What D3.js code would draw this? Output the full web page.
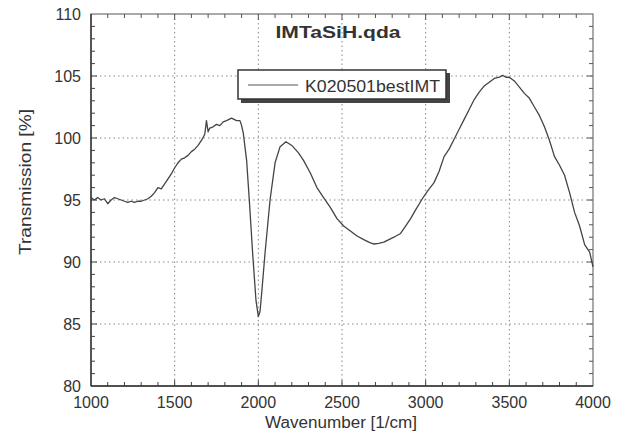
<!DOCTYPE html>
<html>
<head>
<meta charset="utf-8">
<script src="https://cdn.jsdelivr.net/npm/d3@7"></script>
<style>
  body { margin: 0; background: #fff; }
  text { font-family: "Liberation Sans", Arial, sans-serif; fill: #333; }
</style>
</head>
<body>
<div id="chart"></div>
<script>
// data
var wavenumber = [1000,1020,1040,1060,1080,1100,1120,1140,1160,1180,1200,1220,1240,1260,1280,1300,1320,1340,1360,1380,
  1400,1420,1440,1460,1480,1500,1520,1540,1560,1580,1600,1620,1640,1660,1680,1690,1700,1710,1730,1750,
  1770,1790,1810,1840,1870,1890,1900,1910,1930,1946,1966,1986,2000,2010,2020,2040,2070,2100,2130,2165,
  2200,2240,2270,2310,2350,2390,2430,2470,2510,2550,2590,2630,2660,2690,2720,2750,2780,2810,2850,2880,
  2910,2940,2980,3010,3050,3080,3110,3140,3170,3200,3230,3260,3290,3320,3350,3380,3410,3440,3460,3480,
  3500,3530,3560,3590,3620,3650,3680,3710,3740,3770,3800,3830,3860,3890,3920,3950,3980,4000];
var transmission = [95.2,95.0,95.2,95.0,95.1,94.7,95.0,95.2,95.1,95.0,94.9,94.8,94.9,94.8,94.9,94.9,95.0,95.1,95.3,95.6,
  96.0,95.9,96.3,96.7,97.1,97.6,98.0,98.3,98.4,98.6,98.9,99.1,99.4,99.8,100.3,101.4,100.5,100.8,100.9,101.1,
  101.0,101.3,101.4,101.6,101.4,101.4,101.0,100.4,98.2,95.0,90.7,86.9,85.6,86.0,87.5,90.7,95.0,98.0,99.3,99.7,
  99.4,98.8,98.2,97.2,96.0,95.2,94.4,93.5,92.9,92.5,92.1,91.8,91.6,91.45,91.5,91.6,91.8,92.0,92.3,92.9,
  93.5,94.2,95.1,95.7,96.4,97.3,98.5,99.1,99.9,100.7,101.5,102.3,103.1,103.7,104.2,104.5,104.8,104.9,105.05,104.9,
  104.9,104.6,104.1,103.6,103.2,102.5,101.8,100.9,99.8,98.5,97.8,97.0,95.6,94.0,92.9,91.4,90.8,89.6];

var xTicks = [1000,1500,2000,2500,3000,3500,4000];
var yTicks = [80,85,90,95,100,105,110];
var title = "IMTaSiH.qda";
var seriesName = "K020501bestIMT";

var width = 628, height = 437;
var pLeft = 91, pRight = 593, pTop = 14, pBottom = 386;

var svg = d3.select("#chart").append("svg")
    .attr("width", width)
    .attr("height", height);

var x = d3.scaleLinear().domain([1000, 4000]).range([pLeft, pRight]);
var y = d3.scaleLinear().domain([80, 110]).range([pBottom, pTop]);

// dotted grid
svg.selectAll(".gx").data(xTicks.slice(1, -1)).enter().append("line")
    .attr("x1", function(d){ return x(d); }).attr("x2", function(d){ return x(d); })
    .attr("y1", pTop).attr("y2", pBottom)
    .attr("stroke", "#888").attr("stroke-width", 1).attr("stroke-dasharray", "1.5,3");
svg.selectAll(".gy").data(yTicks.slice(1, -1)).enter().append("line")
    .attr("x1", pLeft).attr("x2", pRight)
    .attr("y1", function(d){ return y(d); }).attr("y2", function(d){ return y(d); })
    .attr("stroke", "#888").attr("stroke-width", 1).attr("stroke-dasharray", "1.5,3");

// inward ticks on all four sides
var xMinor = d3.range(1100, 4000, 100);
var yMinor = d3.range(81, 110, 1);
function tickLen(isMajor){ return isMajor ? 6 : 4; }

xMinor.forEach(function(v){
  var L = tickLen(v % 500 == 0);
  svg.append("line").attr("x1", x(v)).attr("x2", x(v)).attr("y1", pBottom).attr("y2", pBottom - L)
     .attr("stroke", "#444").attr("stroke-width", 1);
  svg.append("line").attr("x1", x(v)).attr("x2", x(v)).attr("y1", pTop).attr("y2", pTop + L)
     .attr("stroke", "#555").attr("stroke-width", 1);
});
yMinor.forEach(function(v){
  var L = tickLen(v % 5 == 0);
  svg.append("line").attr("x1", pLeft).attr("x2", pLeft + L).attr("y1", y(v)).attr("y2", y(v))
     .attr("stroke", "#444").attr("stroke-width", 1);
  svg.append("line").attr("x1", pRight).attr("x2", pRight - L).attr("y1", y(v)).attr("y2", y(v))
     .attr("stroke", "#555").attr("stroke-width", 1);
});

// frame
svg.append("rect").attr("x", pLeft).attr("y", pTop)
    .attr("width", pRight - pLeft).attr("height", pBottom - pTop)
    .attr("fill", "none").attr("stroke", "#555").attr("stroke-width", 1);
svg.append("line").attr("x1", pLeft).attr("x2", pRight).attr("y1", pBottom).attr("y2", pBottom)
    .attr("stroke", "#333").attr("stroke-width", 1.6);
svg.append("line").attr("x1", pLeft).attr("x2", pLeft).attr("y1", pTop).attr("y2", pBottom)
    .attr("stroke", "#333").attr("stroke-width", 1.4);

// tick labels
svg.selectAll(".xl").data(xTicks).enter().append("text")
    .attr("x", function(d){ return x(d); }).attr("y", 408)
    .attr("text-anchor", "middle").style("font-size", "16px")
    .text(function(d){ return d; });
svg.selectAll(".yl").data(yTicks).enter().append("text")
    .attr("x", 81).attr("y", function(d){ return y(d) + 5.5; })
    .attr("text-anchor", "end").style("font-size", "16px")
    .text(function(d){ return d; });

// axis titles
svg.append("text").attr("x", 341).attr("y", 428)
    .attr("text-anchor", "middle").style("font-size", "16px")
    .attr("textLength", 152).attr("lengthAdjust", "spacingAndGlyphs")
    .text("Wavenumber [1/cm]");
svg.append("text").attr("transform", "translate(31,182) rotate(-90)")
    .attr("text-anchor", "middle").style("font-size", "16px")
    .attr("textLength", 146).attr("lengthAdjust", "spacingAndGlyphs")
    .text("Transmission [%]");

// title
svg.append("text").attr("x", 338).attr("y", 38)
    .attr("text-anchor", "middle").style("font-size", "17px").style("font-weight", "bold")
    .attr("textLength", 125).attr("lengthAdjust", "spacingAndGlyphs")
    .text(title);

// legend with drop shadow
svg.append("rect").attr("x", 241).attr("y", 73).attr("width", 209).attr("height", 30)
    .attr("fill", "#444");
svg.append("rect").attr("x", 238).attr("y", 70).attr("width", 208).attr("height", 29)
    .attr("fill", "#fff").attr("stroke", "#333").attr("stroke-width", 1.5);
svg.append("line").attr("x1", 248).attr("x2", 298).attr("y1", 85).attr("y2", 85)
    .attr("stroke", "#555").attr("stroke-width", 1.2);
svg.append("text").attr("x", 305).attr("y", 92)
    .style("font-size", "16px")
    .attr("textLength", 135).attr("lengthAdjust", "spacingAndGlyphs")
    .text(seriesName);

// the spectrum
var pts = wavenumber.map(function(w, i){ return [w, transmission[i]]; });
var line = d3.line()
    .x(function(d){ return x(d[0]); })
    .y(function(d){ return y(d[1]); });
svg.append("path").datum(pts)
    .attr("d", line)
    .attr("fill", "none").attr("stroke", "#444").attr("stroke-width", 1.3)
    .attr("stroke-linejoin", "round");
</script>
</body>
</html>
